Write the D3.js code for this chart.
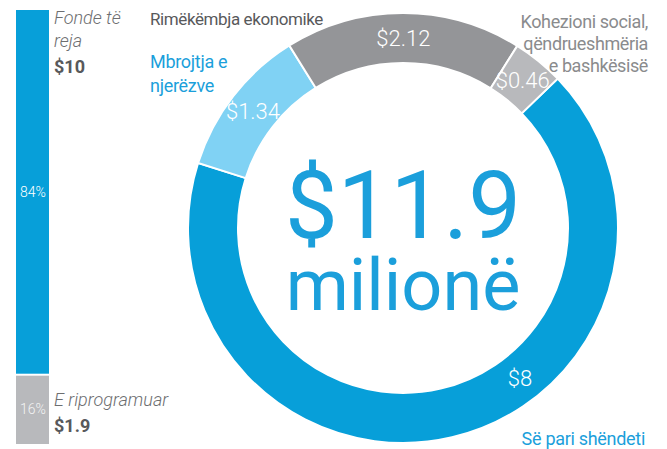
<!DOCTYPE html>
<html><head><meta charset="utf-8">
<script src="https://cdn.jsdelivr.net/npm/d3@7"></script>
<style>
html,body{margin:0;padding:0;background:#fff;}
svg{display:block;font-family:Roboto,"Noto Sans",sans-serif;}
</style></head>
<body>
<svg id="chart" width="667" height="449"></svg>
<script>
// ---- data ----
const barCategories = ["Fonde të reja", "E riprogramuar"];
const barValues = [10, 1.9];
const barLabels = ["$10", "$1.9"];
const barPercents = ["84%", "16%"];

const donutCategories = ["Së pari shëndeti", "Mbrojtja e njerëzve", "Rimëkëmbja ekonomike", "Kohezioni social, qëndrueshmëria e bashkësisë"];
const donutValues = [8, 1.34, 2.12, 0.46];
const donutLabels = ["$8", "$1.34", "$2.12", "$0.46"];
const totalLabel = ["$11.9", "milionë"];

const barColors = ["#079fd9", "#b8b9bc"];
const donutColors = ["#079fd9", "#80d2f4", "#949598", "#b8b9bc"];

const svg = d3.select("#chart");

// ---- stacked bar ----
const total = d3.sum(barValues);
const y = d3.scaleLinear().domain([0, total]).range([10, 444]);
let cum = 0;
const stack = barValues.map((v, i) => { const s = {v, i, y0: cum, y1: cum + v}; cum += v; return s; });
const gap = 1;
svg.append("g").selectAll("rect").data(stack).join("rect")
  .attr("x", 16).attr("width", 33)
  .attr("y", d => y(d.y0) + (d.i > 0 ? gap : 0))
  .attr("height", d => y(d.y1) - y(d.y0) - gap)
  .attr("fill", d => barColors[d.i]);
svg.append("g").selectAll("text").data(stack).join("text")
  .attr("x", 33).attr("y", d => (y(d.y0) + y(d.y1)) / 2 + 5)
  .attr("text-anchor", "middle").attr("font-size", 14).attr("font-weight", 300)
  .attr("fill", (d, i) => i === 0 ? "#fff" : "#f4f4f4")
  .text((d, i) => barPercents[i]);

// bar labels
const t1 = svg.append("text").attr("x", 54).attr("y", 24).attr("font-size", 18).attr("font-style", "italic").attr("font-weight", 300).attr("fill", "#6d6e70");
t1.append("tspan").attr("x", 54).text("Fonde të");
t1.append("tspan").attr("x", 54).attr("dy", 23).text("reja");
svg.append("text").attr("x", 54).attr("y", 73).attr("font-size", 18).attr("font-weight", 700).attr("fill", "#58595b").text(barLabels[0]);
svg.append("text").attr("x", 54).attr("y", 406).attr("font-size", 18).attr("font-style", "italic").attr("font-weight", 300).attr("fill", "#6d6e70").text(barCategories[1]);
svg.append("text").attr("x", 54).attr("y", 432).attr("font-size", 18).attr("font-weight", 700).attr("fill", "#58595b").text(barLabels[1]);

// ---- donut ----
const cx = 403, cy = 228, rOut = 215, rIn = 165;
const start = 46 * Math.PI / 180;
const pie = d3.pie().sort(null).startAngle(start).endAngle(start + 2 * Math.PI);
const arcs = pie(donutValues);
const arc = d3.arc().innerRadius(rIn).outerRadius(rOut);
const g = svg.append("g").attr("transform", `translate(${cx},${cy})`);
g.selectAll("path").data(arcs).join("path")
  .attr("d", arc).attr("fill", (d, i) => donutColors[i])
  .attr("stroke", "#fff").attr("stroke-width", 2);

const labelArc = d3.arc().innerRadius(190).outerRadius(190);
const labelAngleOverride = [142 * Math.PI / 180, null, null, null];
g.selectAll("text.v").data(arcs).join("text").attr("class", "v")
  .attr("transform", (d, i) => {
    let c;
    if (labelAngleOverride[i] !== null) {
      const a = labelAngleOverride[i];
      c = [190 * Math.sin(a), -190 * Math.cos(a)];
    } else c = labelArc.centroid(d);
    return `translate(${c[0]},${c[1] + 8})`;
  })
  .attr("text-anchor", "middle").attr("font-size", 22).attr("font-weight", 300)
  .attr("fill", "#fff").text((d, i) => donutLabels[i]);

// center
svg.append("text").attr("x", cx).attr("y", 238).attr("text-anchor", "middle")
  .attr("font-size", 94).attr("fill", "#1b9fdb").text(totalLabel[0]);
svg.append("text").attr("x", cx).attr("y", 310).attr("text-anchor", "middle")
  .attr("font-size", 72).attr("fill", "#1b9fdb").text(totalLabel[1]);

// category labels
svg.append("text").attr("x", 150).attr("y", 25).attr("font-size", 17).attr("fill", "#58595b")
  .attr("letter-spacing", -0.4).text(donutCategories[2]);
const m = svg.append("text").attr("font-size", 18).attr("fill", "#1b9fdb").attr("letter-spacing", -0.3);
m.append("tspan").attr("x", 150).attr("y", 68).text("Mbrojtja e");
m.append("tspan").attr("x", 150).attr("y", 92).text("njerëzve");
const k = svg.append("text").attr("font-size", 18).attr("fill", "#8a8b8d").attr("text-anchor", "end").attr("letter-spacing", -0.4);
["Kohezioni social,", "qëndrueshmëria", "e bashkësisë"].forEach((s, i) =>
  k.append("tspan").attr("x", 648).attr("y", 28 + i * 22).text(s));
svg.append("text").attr("x", 645).attr("y", 445).attr("text-anchor", "end").attr("font-size", 18)
  .attr("fill", "#1b9fdb").attr("letter-spacing", -0.3).text(donutCategories[0]);
</script>
</body></html>
